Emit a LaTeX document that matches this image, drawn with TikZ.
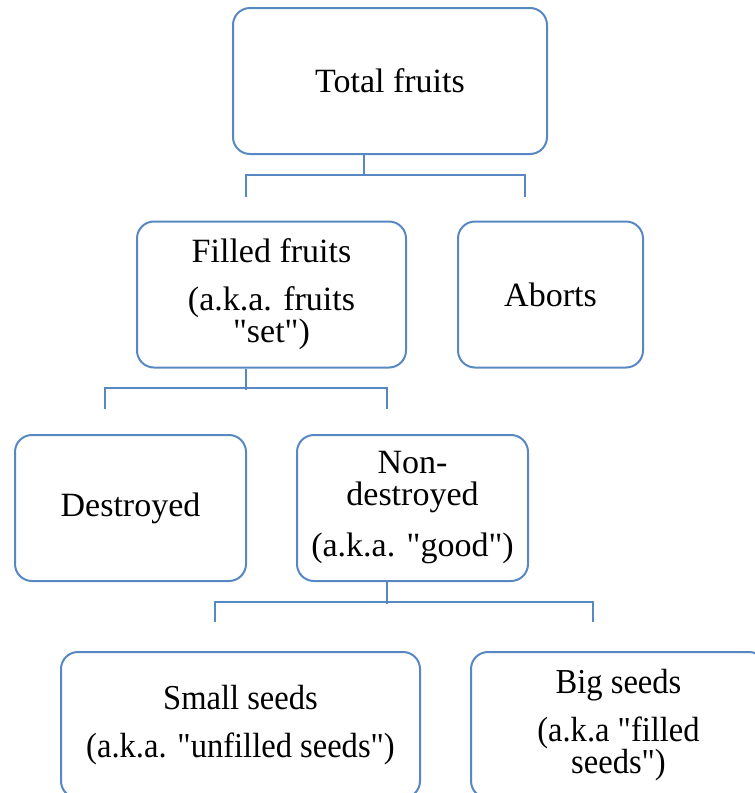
\documentclass[tikz,border=0pt]{standalone}
\usepackage{fontspec}
\newfontfamily\boxserif{Liberation Serif}
\newfontfamily\narrowserif[FakeStretch=0.93]{Liberation Serif}
\usetikzlibrary{calc, positioning}
\definecolor{boxline}{RGB}{88,136,194}
\tikzset{
  box/.style={
    rectangle, rounded corners=17pt, draw=boxline, line width=2pt,
    minimum height=146pt, align=center, inner sep=0pt,
    font=\boxserif\fontsize{34}{32}\selectfont
  },
  seedbox/.style={
    box, font=\narrowserif\fontsize{35}{32}\selectfont
  },
  link/.style={
    draw=boxline, line width=2pt
  }
}

\begin{document}
\begin{tikzpicture}[x=1pt, y=1pt]

\useasboundingbox (0,0) rectangle (755,-793);
\clip (0,0) rectangle (755,-793);

\node[box, minimum width=314pt] (total) at (390,-81) {Total fruits};

\node[box, minimum width=269pt] (filled) at (271.5,-294.5) {Filled fruits\\[16pt] (a.k.a. fruits\\ "set")};
\node[box, minimum width=185pt] (aborts) at (550.5,-294.5) {Aborts};

\node[box, minimum width=231pt] (destroyed) at (130.5,-508) {Destroyed};
\node[box, minimum width=231pt] (good) at (412.5,-508) {Non-\\ destroyed\\[19pt] (a.k.a. "good")};

\node[seedbox, minimum width=359pt] (small) at (240.5,-725) {Small seeds\\[16pt] (a.k.a. "unfilled seeds")};
\node[seedbox, minimum width=295pt] (big) at (618.5,-725) {Big seeds\\[15pt] (a.k.a "filled\\ seeds")};

% brackets, set 26pt left of the boxes
\draw[link] ($(total.south)+(-26,0)$) -- ++(0,-21);
\draw[link] ($(filled.north)+(-26,24)$) -- ++(0,22) -| ($(aborts.north)+(-26,24)$);

\draw[link] ($(filled.south)+(-26,0)$) -- ++(0,-21);
\draw[link] ($(destroyed.north)+(-26,25)$) -- ++(0,21) -| ($(good.north)+(-26,25)$);

\draw[link] ($(good.south)+(-26,0)$) -- ++(0,-22);
\draw[link] ($(small.north)+(-26,29)$) -- ++(0,20) -| ($(big.north)+(-26,29)$);

\end{tikzpicture}
\end{document}
